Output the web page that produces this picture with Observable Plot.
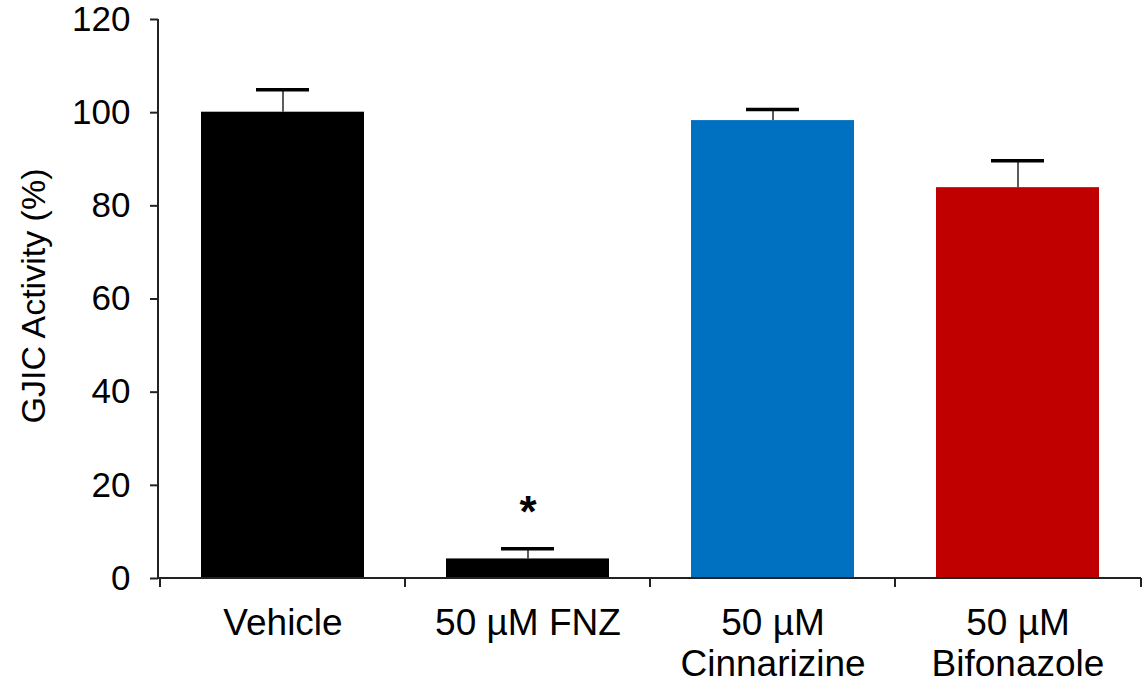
<!DOCTYPE html>
<html>
<head>
<meta charset="utf-8">
<script src="https://cdn.jsdelivr.net/npm/d3@7"></script>
<script src="https://cdn.jsdelivr.net/npm/@observablehq/plot@0.6"></script>
<style>
  html, body { margin: 0; padding: 0; background: #fff; }
</style>
</head>
<body>
<div id="chart"></div>
<script>
const categories = ["Vehicle", "50 µM FNZ", "50 µM\nCinnarizine", "50 µM\nBifonazole"];
const values = [100.1, 4.2, 98.3, 83.9];
const errors = [4.8, 2.2, 2.4, 5.8];
const colors = ["#000000", "#000000", "#0070C0", "#C00000"];
const significance = ["", "*", "", ""];
const yTicks = [0, 20, 40, 60, 80, 100, 120];
const yLabel = "GJIC Activity (%)";

const data = categories.map((c, i) => ({
  cat: c, value: values[i], top: values[i] + errors[i], color: colors[i], sig: significance[i]
}));

const font = "'Liberation Sans', Arial, Helvetica, sans-serif";
const axisColor = "#222";

const axes = (index, scales, values_, dimensions) => {
  const {width, height, marginLeft, marginRight, marginTop, marginBottom} = dimensions;
  const x = scales.x;
  const y0 = height - marginBottom;
  const right = width - marginRight;
  const g = d3.create("svg:g").attr("stroke", axisColor).attr("stroke-width", 2).attr("fill", "none");
  g.append("line").attr("x1", marginLeft).attr("x2", marginLeft).attr("y1", marginTop).attr("y2", y0);
  g.append("line").attr("x1", marginLeft).attr("x2", right).attr("y1", y0).attr("y2", y0);
  const bounds = categories.map(c => x(c)).concat([right]);
  for (const b of bounds) {
    g.append("line").attr("x1", b).attr("x2", b).attr("y1", y0).attr("y2", y0 + 9);
  }
  return g.node();
};

const chart = Plot.plot({
  width: 1146,
  height: 686,
  marginLeft: 158,
  marginRight: 5,
  marginTop: 19,
  marginBottom: 108,
  style: {fontFamily: font, background: "#fff", color: "#000"},
  x: {type: "band", domain: categories, padding: 0},
  y: {domain: [0, 120]},
  marks: [
    Plot.barY(data, {x: "cat", y: "value", fill: "color", insetLeft: 41, insetRight: 41}),
    Plot.ruleX(data, {x: "cat", y1: "value", y2: "top", stroke: "#333", strokeWidth: 1.6}),
    Plot.tickY(data, {x: "cat", y: "top", stroke: "#000", strokeWidth: 3.5, insetLeft: 96, insetRight: 96}),
    Plot.text(data, {x: "cat", y: "top", text: "sig", lineAnchor: "bottom", dy: -22, fontSize: 44, fontWeight: "bold", fill: "#000"}),
    Plot.axisY({ticks: yTicks, tickSize: 8, tickPadding: 20, fontSize: 35, label: null, stroke: axisColor, strokeWidth: 2, tickFormat: d => String(d)}),
    Plot.axisX({tickSize: 0, tickPadding: 27, fontSize: 37, lineHeight: 1.12, label: null, tickFormat: d => d}),
    Plot.text([yLabel], {frameAnchor: "left", text: d => d, rotate: -90, dx: -124, dy: -3, fontSize: 34, lineAnchor: "middle", textAnchor: "middle", fill: "#000"}),
    axes
  ]
});

document.getElementById("chart").appendChild(chart);
</script>
</body>
</html>
